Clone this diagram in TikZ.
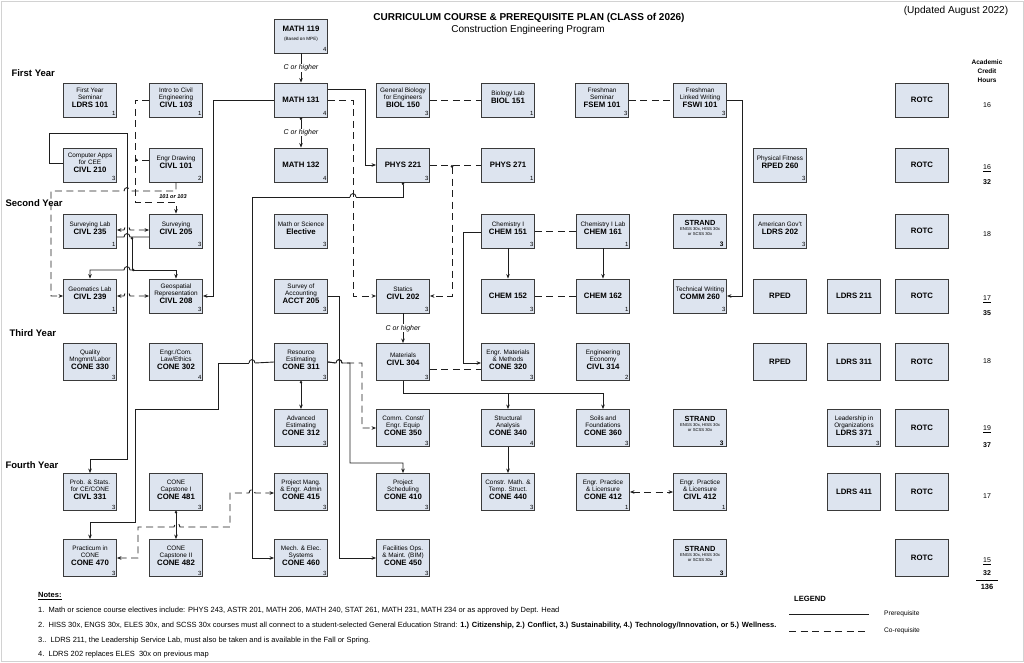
\documentclass[tikz,border=0pt]{standalone}
\usepackage{fontspec}
\setmainfont{Liberation Sans}
\usetikzlibrary{arrows.meta}
\definecolor{boxfill}{HTML}{DDE4EF}
\definecolor{boxline}{HTML}{3A3A3A}
\definecolor{linec}{HTML}{1E1E1E}
\newcommand\sm{\fontsize{6.4}{7.7}\selectfont}
\newcommand\cd{\fontsize{7.8}{9}\selectfont\bfseries}
\newcommand\tn{\fontsize{4.2}{5}\selectfont}
\newcommand\cb[5]{\node[#1] (#2) at (#3) {#4};\node[crd] (#2-c) at (#2.south east) {#5};}
\begin{document}
\begin{tikzpicture}[x=1pt,y=-1pt,
  >={Stealth[length=4.5pt,width=3.6pt]},
  big/.style={draw=boxline, fill=boxfill, line width=0.9pt, minimum width=53pt, minimum height=34pt, inner sep=0pt, align=center, font=\cd},
  bigt/.style={big, minimum height=37pt},
  box/.style={big, font=\sm, execute at end node={\rule[-5pt]{0pt}{5pt}}},
  boxt/.style={box, minimum height=37pt},
  crd/.style={anchor=south east, inner sep=1.3pt, font=\fontsize{6}{7}\selectfont},
  ln/.style={draw=linec, line width=0.9pt},
  prq/.style={ln, ->},
  creq/.style={ln, dash pattern=on 7pt off 4.5pt},
  coa/.style={creq, ->},
  lbl/.style={font=\fontsize{7}{8}\selectfont\itshape, fill=white, inner sep=0.5pt},
  yr/.style={anchor=west, font=\fontsize{9.5}{10}\selectfont\bfseries},
  note/.style={anchor=west, font=\fontsize{7.5}{8}\selectfont, inner sep=0pt},
  hrs/.style={font=\fontsize{7}{8}\selectfont, inner sep=0.5pt}
]
\useasboundingbox (0,0) rectangle (1024,663);
\draw[gray!35, line width=0.6pt] (1,1) rectangle (1023,661);

% titles
\node[font=\fontsize{10}{11}\selectfont\bfseries] (title) at (529,18) {CURRICULUM COURSE \& PREREQUISITE PLAN (CLASS of 2026)};
\node[font=\fontsize{10}{11}\selectfont] (subtitle) at (528,30) {Construction Engineering Program};
\node[font=\fontsize{10.1}{11}\selectfont] (updated) at (956,11) {(Updated August 2022)};
\node[yr] (y1) at (8,73) {First Year};
\node[yr] (y2) at (2,203) {Second Year};
\node[yr] (y3) at (6,333) {Third Year};
\node[yr] (y4) at (2,465) {Fourth Year};
\node[align=center, font=\fontsize{6.5}{9}\selectfont\bfseries] (ach) at (987,71) {Academic\\Credit\\Hours};

% row 0
\node[big] (math119) at (301,36) {\rule[-3pt]{0pt}{0pt}MATH 119\\{\fontsize{4.6}{6}\selectfont\mdseries (Based on MPE)}\rule[-6pt]{0pt}{0pt}};
\node[crd] (math119-c) at (math119.south east) {4};

% row 1
\cb{box}{ldrs101}{90,100}{First Year\\Seminar\\\cd LDRS 101}{1}
\cb{box}{civl103}{176,100}{Intro to Civil\\Engineering\\\cd CIVL 103}{1}
\cb{big}{math131}{301,100}{MATH 131}{4}
\cb{box}{biol150}{403,100}{General Biology\\for Engineers\\\cd BIOL 150}{3}
\cb{box}{biol151}{508,100}{Biology Lab\\\cd BIOL 151}{1}
\cb{box}{fsem101}{602,100}{Freshman\\Seminar\\\cd FSEM 101}{3}
\cb{box}{fswi101}{700,100}{Freshman\\Linked Writing\\\cd FSWI 101}{3}
\node[big] (rotc1) at (922,100) {ROTC};

% row 2
\cb{box}{civl210}{90,165}{Computer Apps\\for CEE\\\cd CIVL 210}{3}
\cb{box}{civl101}{176,165}{Engr Drawing\\\cd CIVL 101}{2}
\cb{big}{math132}{301,165}{MATH 132}{4}
\cb{big}{phys221}{403,165}{PHYS 221}{3}
\cb{big}{phys271}{508,165}{PHYS 271}{1}
\cb{box}{rped260}{780,165}{Physical Fitness\\\cd RPED 260}{3}
\node[big] (rotc2) at (922,165) {ROTC};

% row 3
\cb{box}{civl235}{90,231}{Surveying Lab\\\cd CIVL 235}{1}
\cb{box}{civl205}{176,231}{Surveying\\\cd CIVL 205}{3}
\cb{box}{elect}{301,231}{Math or Science\\\cd Elective}{3}
\cb{box}{chem151}{508,231}{Chemistry I\\\cd CHEM 151}{3}
\cb{box}{chem161}{603,231}{Chemistry I Lab\\\cd CHEM 161}{1}
\node[big, font=\tn] (strand1) at (700,231) {{\fontsize{7.4}{8}\selectfont\bfseries STRAND}\\ENGS 30x, HISS 30x\\or SCSS 30x\rule[-7pt]{0pt}{0pt}};
\node[crd, font=\fontsize{6.5}{7}\selectfont\bfseries, xshift=-2pt] (strand1-c) at (strand1.south east) {3};
\cb{box}{ldrs202}{780,231}{American Gov't\\\cd LDRS 202}{3}
\node[big] (rotc3) at (922,231) {ROTC};

% row 4
\cb{box}{civl239}{90,296}{Geomatics Lab\\\cd CIVL 239}{1}
\cb{box}{civl208}{176,296}{Geospatial\\Representation\\\cd CIVL 208}{3}
\cb{box}{acct205}{301,296}{Survey of\\Accounting\\\cd ACCT 205}{3}
\cb{box}{civl202}{403,296}{Statics\\\cd CIVL 202}{3}
\cb{big}{chem152}{508,296}{CHEM 152}{3}
\cb{big}{chem162}{603,296}{CHEM 162}{1}
\cb{box}{comm260}{700,296}{Technical Writing\\\cd COMM 260}{3}
\node[big] (rped4) at (780,296) {RPED};
\node[big] (ldrs211) at (854,296) {LDRS 211};
\node[big] (rotc4) at (922,296) {ROTC};

% row 5
\cb{boxt}{cone330}{90,362}{Quality\\Mngmnt/Labor\\\cd CONE 330}{3}
\cb{boxt}{cone302}{176,362}{Engr./Com.\\Law/Ethics\\\cd CONE 302}{4}
\cb{boxt}{cone311}{301,362}{Resource\\Estimating\\\cd CONE 311}{3}
\cb{boxt}{civl304}{403,362}{Materials\\\cd CIVL 304}{3}
\cb{boxt}{cone320}{508,362}{Engr. Materials\\\& Methods\\\cd CONE 320}{3}
\cb{boxt}{civl314}{603,362}{Engineering\\Economy\\\cd CIVL 314}{2}
\node[bigt] (rped5) at (780,362) {RPED};
\node[bigt] (ldrs311) at (854,362) {LDRS 311};
\node[bigt] (rotc5) at (922,362) {ROTC};

% row 6
\cb{boxt}{cone312}{301,428}{Advanced\\Estimating\\\cd CONE 312}{3}
\cb{boxt}{cone350}{403,428}{Comm. Const/\\Engr. Equip\\\cd CONE 350}{3}
\cb{boxt}{cone340}{508,428}{Structural\\Analysis\\\cd CONE 340}{4}
\cb{boxt}{cone360}{603,428}{Soils and\\Foundations\\\cd CONE 360}{3}
\node[bigt, font=\tn] (strand2) at (700,428) {{\fontsize{7.4}{8}\selectfont\bfseries STRAND}\\ENGS 30x, HISS 30x\\or SCSS 30x\rule[-8pt]{0pt}{0pt}};
\node[crd, font=\fontsize{6.5}{7}\selectfont\bfseries, xshift=-2pt] (strand2-c) at (strand2.south east) {3};
\cb{boxt}{ldrs371}{854,428}{Leadership in\\Organizations\\\cd LDRS 371}{3}
\node[bigt] (rotc6) at (922,428) {ROTC};

% row 7
\cb{boxt}{civl331}{90,492}{Prob. \& Stats.\\for CE/CONE\\\cd CIVL 331}{3}
\cb{boxt}{cone481}{176,492}{CONE\\Capstone I\\\cd CONE 481}{3}
\cb{boxt}{cone415}{301,492}{Project Mang.\\\& Engr. Admin\\\cd CONE 415}{3}
\cb{boxt}{cone410}{403,492}{Project\\Scheduling\\\cd CONE 410}{3}
\cb{boxt}{cone440}{508,492}{Constr. Math. \&\\Temp. Struct.\\\cd CONE 440}{3}
\cb{boxt}{cone412}{603,492}{Engr. Practice\\\& Licensure\\\cd CONE 412}{1}
\cb{boxt}{civl412}{700,492}{Engr. Practice\\\& Licensure\\\cd CIVL 412}{1}
\node[bigt] (ldrs411) at (854,492) {LDRS 411};
\node[bigt] (rotc7) at (922,492) {ROTC};

% row 8
\cb{boxt}{cone470}{90,558}{Practicum in\\CONE\\\cd CONE 470}{3}
\cb{boxt}{cone482}{176,558}{CONE\\Capstone II\\\cd CONE 482}{3}
\cb{boxt}{cone460}{301,558}{Mech. \& Elec.\\Systems\\\cd CONE 460}{3}
\cb{boxt}{cone450}{403,558}{Facilities Ops.\\\& Maint. (BIM)\\\cd CONE 450}{3}
\node[bigt, font=\tn] (strand3) at (700,558) {{\fontsize{7.4}{8}\selectfont\bfseries STRAND}\\ENGS 30x, HISS 30x\\or SCSS 30x\rule[-8pt]{0pt}{0pt}};
\node[crd, font=\fontsize{6.5}{7}\selectfont\bfseries, xshift=-2pt] (strand3-c) at (strand3.south east) {3};
\node[bigt] (rotc8) at (922,558) {ROTC};

% credit hours
\node[hrs] (h1) at (987,105) {16};
\node[hrs] (h2) at (987,168) {\underline{16}};
\node[hrs, font=\fontsize{7}{8}\selectfont\bfseries] (h2t) at (987,182) {32};
\node[hrs] (h3) at (987,234) {18};
\node[hrs] (h4) at (987,299) {\underline{17}};
\node[hrs, font=\fontsize{7}{8}\selectfont\bfseries] (h4t) at (987,313) {35};
\node[hrs] (h5) at (987,361) {18};
\node[hrs] (h6) at (987,429) {\underline{19}};
\node[hrs, font=\fontsize{7}{8}\selectfont\bfseries] (h6t) at (987,445) {37};
\node[hrs] (h7) at (987,496) {17};
\node[hrs] (h8) at (987,561) {\underline{15}};
\node[hrs, font=\fontsize{7}{8}\selectfont\bfseries] (h8t) at (987,573) {32};
\node[hrs, font=\fontsize{7.5}{8}\selectfont\bfseries] (htot) at (987,587) {136};
\coordinate (tl1) at (976,580.5);
\coordinate (tl2) at (998,580.5);
\draw[line width=0.7pt] (tl1) -- (tl2);

% ---------- connectors ----------
\draw[prq] (math119.south) -- node[lbl] (lb1) {C or higher} (math131.north);
\draw[prq, {Circle[length=2.6pt]}->] (math131.south) -- node[lbl] (lb2) {C or higher} (math132.north);
\draw[prq] (math131.east |- 0,89) -- (365,89) -- (365,165) -- (phys221.west);
\draw[coa] (math131.east) -- (353,100) -- (353,296) -- (civl202.west);
% PHYS 221 -> CONE 460 (hop over the dashed line)
\coordinate (p1) at (403,197);
\coordinate (p2) at (356,197);
\coordinate (p3) at (350,197);
\coordinate (p4) at (252,197);
\draw[ln, {Circle[length=2.6pt]}-] (phys221.south) -- (p1) -- (p2);
\draw[ln] (p2) .. controls (356,192.5) and (350,192.5) .. (p3);
\draw[prq] (p3) -- (p4) -- (252,558) -- (cone460.west);
\draw[creq] (phys221.east) -- (phys271.west);
\coordinate (jphys) at (452,165);
\draw[coa, {Circle[length=2.6pt]}->] (jphys) -- (452,296) -- (civl202.east);
\draw[creq] (biol150.east) -- (biol151.west);
\draw[creq] (fsem101.east) -- (fswi101.west);
\draw[prq] (fswi101.east) -- (742,100) -- (742,296) -- (comm260.east);
\draw[prq] (civl202.south) -- node[lbl] (lb3) {C or higher} (civl304.north);
\draw[creq] (civl304.east |- 0,369) -- (cone320.west |- 0,369);
\draw[prq] (chem151.west |- 0,232) -- (463,232) -- (463,363) -- (cone320.west |- 0,363);
\draw[prq] (chem151.south) -- (chem152.north);
\draw[prq] (chem161.south) -- (chem162.north);
\draw[creq] (chem151.east) -- (chem161.west);
\draw[creq] (chem152.east) -- (chem162.west);
\coordinate (j304) at (508,393);
\draw[prq] (civl304.south) -- (403,393) -- (603,393) -- (cone360.north);
\draw[prq] (j304) -- (cone340.north);
\draw[prq] (cone340.south) -- (cone440.north);
\draw[coa, <->] (cone412.east) -- (civl412.west);
\draw[prq, {Circle[length=2.6pt]}->] (cone311.south) -- (cone312.north);
\draw[prq] (cone311.east) -- (336,363) .. controls (336,358.5) and (342,358.5) .. (342,363) -- (350,363) -- (350,463) -- (403,463) -- (cone410.north);
\draw[coa] (cone311.east) -- (336,363) .. controls (336,358.5) and (342,358.5) .. (342,363) -- (362,363) -- (362,428) -- (cone350.west);
\draw[prq] (acct205.east) -- (339,296) -- (339,558) -- (cone450.west);
% CONE 311 -> CONE 470 (hop over PHYS line)
\coordinate (q1) at (255,363);
\coordinate (q2) at (249,363);
\coordinate (q3) at (218,363);
\coordinate (q4) at (218,409);
\draw[ln] (cone311.west) -- (q1);
\draw[ln] (q1) .. controls (255,358.5) and (249,358.5) .. (q2);
\draw[prq] (q2) -- (q3) -- (q4) -- (135,409) -- (135,522) -- (90,522) -- (cone470.north);
\draw[coa, <->] (cone470.east) -- (138,558) -- (138,527) -- (174,527) .. controls (174,522.5) and (180,522.5) .. (180,527) -- (230,527) -- (230,493) -- (249,493) .. controls (249,488.5) and (255,488.5) .. (255,493) -- (cone415.west |- 0,493);
\draw[prq, {Circle[length=2.6pt]}->] (cone481.south) -- (cone482.north);

% left cluster
\draw[prq] (civl210.west |- 0,163) -- (49,163) -- (49,133) -- (127,133) -- (127,459) -- (90,459) -- (civl331.north);
\draw[coa] (civl101.south) -- (176,191) -- (130,191) .. controls (130,186.5) and (124,186.5) .. (124,191) -- (51,191) -- (51,296) -- (civl239.west);
\draw[coa] (civl103.west) -- (135,100) -- (135,202) -- (176,202) -- (civl205.north);
\draw[creq, -{Circle[length=2.6pt]}] (civl101.west |- 0,160) -- (135,160);
\node[font=\fontsize{5.6}{6}\selectfont\bfseries\itshape, inner sep=0pt] (l101) at (173,197) {101 or 103};
\draw[coa, <->] (civl235.east |- 0,230) -- (124,230) .. controls (124,225.5) and (130,225.5) .. (130,230) -- (civl205.west |- 0,230);
\draw[ln] (civl235.east |- 0,237) -- (124,237) .. controls (124,232.5) and (130,232.5) .. (130,237) -- (civl205.west |- 0,237);
\coordinate (jsv) at (132,237);
\coordinate (jsv2) at (132,270);
\draw[ln, {Circle[length=2.4pt]}-] (jsv) -- (jsv2);
\draw[prq] (jsv2) -- (130,270) .. controls (130,265.5) and (124,265.5) .. (124,270) -- (90,270) -- (civl239.north);
\draw[prq, {Circle[length=2.4pt]}->] (jsv2) -- (176,270) -- (civl208.north);
\draw[coa, <->] (civl239.east) -- (124,296) .. controls (124,291.5) and (130,291.5) .. (130,296) -- (civl208.west);
\draw[prq] (math131.west) -- (213,100) -- (213,296) -- (civl208.east);

% notes
\node[note] (n0) at (38,596) {\bfseries\underline{Notes:}};
\node[note] (n1) at (38,611) {1.\ \ Math or science course electives include: PHYS 243, ASTR 201, MATH 206, MATH 240, STAT 261, MATH 231, MATH 234 or as approved by Dept. Head};
\node[note] (n2) at (38,626) {2.\ \ HISS 30x, ENGS 30x, ELES 30x, and SCSS 30x courses must all connect to a student-selected General Education Strand: \textbf{1.) Citizenship, 2.) Conflict, 3.) Sustainability, 4.) Technology/Innovation, or 5.) Wellness.}};
\node[note] (n3) at (38,641) {3..\ \ LDRS 211, the Leadership Service Lab, must also be taken and is available in the Fall or Spring.};
\node[note] (n4) at (38,655) {4.\ \ LDRS 202 replaces ELES\ \ 30x on previous map};

% legend
\node[font=\fontsize{7.6}{8}\selectfont\bfseries] (legend) at (810,599) {LEGEND};
\coordinate (la1) at (789,614);
\coordinate (la2) at (869,614);
\coordinate (lb1c) at (789,631);
\coordinate (lb2c) at (869,631);
\draw[ln] (la1) -- (la2);
\draw[creq] (lb1c) -- (lb2c);
\node[note, font=\fontsize{6.6}{7}\selectfont] (lpre) at (884,614) {Prerequisite};
\node[note, font=\fontsize{6.6}{7}\selectfont] (lco) at (884,631) {Co-requisite};
\end{tikzpicture}
\end{document}
